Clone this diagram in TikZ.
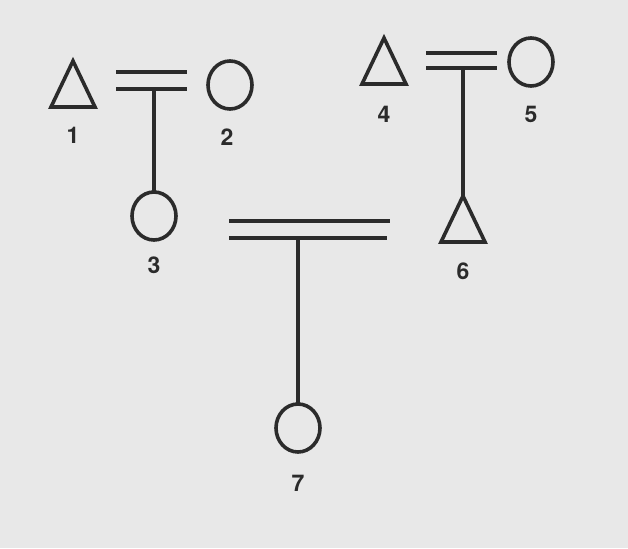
\documentclass[tikz,border=0pt]{standalone}
\usepackage{fontspec}
\setmainfont{TeX Gyre Heros}
\usetikzlibrary{positioning,shapes.geometric}
\definecolor{Scan}{HTML}{E8E8E8}
\definecolor{Ink}{HTML}{2B2B2B}
\tikzset{
  male/.style={draw=Ink,line width=3.6pt,isosceles triangle,shape border rotate=90,isosceles triangle stretches,minimum width=44pt,minimum height=46pt,inner sep=0pt,outer sep=0pt,anchor=apex},
  female/.style={draw=Ink,line width=3.6pt,ellipse,minimum width=44pt,minimum height=48pt,inner sep=0pt,outer sep=0pt},
  num/.style={font=\fontsize{23}{23}\selectfont\bfseries,text=Ink,inner sep=0pt},
  wed/.style={draw=Ink,line width=3.6pt},
  kin/.style={draw=Ink,line width=3.2pt}
}

\begin{document}
\begin{tikzpicture}[x=1pt,y=-1pt,node distance=20pt]
  \fill[Scan] (0,0) rectangle (628,548);
  \useasboundingbox (0,0) rectangle (628,548);
  % persons
  \node[male] (p1) at (73,61) {};
  \node[female] (p2) at (230,85) {};
  \node[female] (p3) at (154,216) {};
  \node[male] (p4) at (384,38) {};
  \node[female] (p5) at (531,62) {};
  \node[male] (p6) at (463,196) {};
  \node[female] (p7) at (298,428) {};
  % numbers
  \node[num,below=of p1] (n1) {1};
  \node[num,below=of p2,xshift=-3pt] (n2) {2};
  \node[num,below=17pt of p3] (n3) {3};
  \node[num,below=22pt of p4] (n4) {4};
  \node[num,below=20pt of p5] (n5) {5};
  \node[num,below=21pt of p6] (n6) {6};
  \node[num,below=23pt of p7] (n7) {7};
  % marriages
  \coordinate (m12a) at (116,72);  \coordinate (m12b) at (187,72);
  \coordinate (m12c) at (116,89);  \coordinate (m12d) at (187,89);
  \coordinate (m45a) at (426,53);  \coordinate (m45b) at (497,53);
  \coordinate (m45c) at (426,68);  \coordinate (m45d) at (497,68);
  \coordinate (m36a) at (229,221); \coordinate (m36b) at (390,221);
  \coordinate (m36c) at (229,238); \coordinate (m36d) at (387,238);
  \draw[wed] (m12a) -- (m12b);
  \draw[wed] (m12c) -- (m12d);
  \draw[wed] (m45a) -- (m45b);
  \draw[wed] (m45c) -- (m45d);
  \draw[wed] (m36a) -- (m36b);
  \draw[wed] (m36c) -- (m36d);
  % descent
  \draw[kin] (m12c -| p3) -- (p3.north);
  \draw[kin] (m45c -| p6.apex) -- (p6.apex);
  \draw[kin] (m36c -| p7) -- (p7.north);
\end{tikzpicture}
\end{document}
